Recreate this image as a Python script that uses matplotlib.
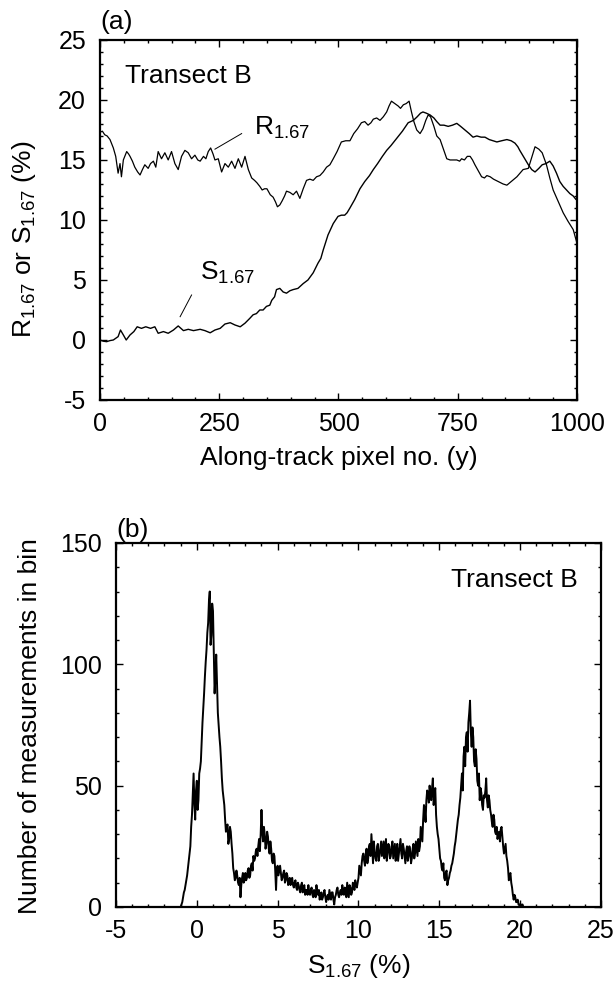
import numpy as np
import matplotlib
matplotlib.use('Agg')
import matplotlib.pyplot as plt
from matplotlib.ticker import MultipleLocator

plt.rcParams['font.family'] = ['Liberation Sans', 'DejaVu Sans']
plt.rcParams['mathtext.fontset'] = 'custom'
plt.rcParams['mathtext.rm'] = 'Liberation Sans'
plt.rcParams['mathtext.it'] = 'Liberation Sans:italic'
plt.rcParams['mathtext.bf'] = 'Liberation Sans:bold'
plt.rcParams['axes.unicode_minus'] = False

# (a) R_1.67 along the transect
r_pix = [0, 5, 10, 15, 21, 28, 33, 38, 42, 45,
         49, 56, 60, 63, 68, 73, 79, 84, 89, 94,
         101, 106, 112, 117, 122, 129, 136, 143, 150, 157,
         164, 171, 178, 185, 192, 199, 205, 210, 217, 222,
         227, 232, 237, 241, 248, 255, 262, 269, 276, 283,
         290, 297, 304, 311, 318, 324, 329, 335, 340, 345,
         350, 357, 363, 368, 372, 377, 382, 387, 391, 398,
         405, 412, 419, 426, 433, 440, 447, 454, 461, 468,
         475, 482, 489, 497, 506, 515, 524, 532, 540, 548,
         555, 562, 568, 573, 580, 587, 594, 601, 606, 611,
         618, 625, 630, 636, 642, 648, 653, 658, 664, 671,
         677, 683, 688, 693, 700, 706, 713, 720, 727, 734,
         741, 748, 754, 758, 764, 770, 776, 781, 786, 793,
         800, 806, 811, 818, 825, 835, 845, 853, 862, 874,
         887, 898, 905, 912, 920, 927, 936, 943, 950, 960,
         971, 981, 992, 1000]
r_val = [17.3, 17.4, 17.1, 17.0, 16.7, 16.0, 15.3, 13.9, 14.7, 13.6,
         15.0, 15.7, 15.5, 15.3, 14.9, 14.4, 14.0, 13.75, 14.2, 14.6,
         14.3, 14.7, 14.9, 14.4, 15.7, 15.1, 15.6, 15.0, 15.7, 14.7,
         14.2, 15.3, 15.8, 15.6, 15.1, 15.4, 15.0, 14.9, 15.3, 15.1,
         15.7, 16.0, 15.5, 15.0, 15.1, 14.0, 14.7, 14.4, 14.9, 14.3,
         15.1, 14.4, 15.3, 14.2, 13.5, 13.3, 13.1, 12.8, 12.5, 12.6,
         12.6, 12.1, 11.9, 11.5, 11.1, 11.25, 11.6, 12.0, 12.4, 12.3,
         12.1, 12.4, 11.8, 12.6, 13.3, 13.4, 13.3, 13.6, 13.7, 14.0,
         14.4, 14.6, 15.1, 15.7, 16.5, 16.6, 16.6, 17.2, 17.6, 18.1,
         18.2, 17.9, 18.1, 18.4, 18.5, 18.3, 18.6, 19.0, 19.5, 19.9,
         19.7, 19.5, 19.3, 19.6, 19.7, 19.9, 19.0, 18.2, 17.5, 17.2,
         17.6, 18.3, 18.75, 18.6, 17.8, 17.0, 16.7, 15.9, 15.1, 15.0,
         15.0, 15.0, 14.9, 15.1, 15.0, 15.3, 15.3, 15.0, 14.6, 14.1,
         13.6, 13.5, 13.7, 13.6, 13.4, 13.2, 13.0, 12.9, 13.2, 13.6,
         14.2, 14.3, 15.2, 16.1, 15.9, 15.6, 14.6, 13.5, 12.5, 11.6,
         10.6, 9.9, 9.2, 8.05]

# (a) S_1.67 along the transect
s_pix = [0, 7, 14, 21, 28, 38, 43, 49, 55, 63,
         71, 78, 87, 96, 106, 115, 122, 133, 143, 154,
         164, 175, 185, 196, 210, 220, 231, 241, 252, 262,
         273, 283, 294, 304, 314, 321, 328, 335, 342, 349,
         356, 360, 366, 370, 377, 384, 391, 398, 405, 415,
         426, 436, 447, 457, 463, 468, 478, 489, 499, 506,
         513, 518, 524, 534, 545, 555, 565, 573, 582, 592,
         601, 610, 622, 634, 646, 657, 665, 672, 677, 684,
         692, 700, 706, 713, 721, 730, 739, 748, 756, 765,
         774, 782, 790, 799, 807, 816, 824, 832, 842, 853,
         862, 870, 876, 880, 889, 898, 905, 912, 920, 927,
         935, 943, 950, 957, 964, 971, 978, 985, 992, 998,
         1000]
s_val = [0.0, -0.1, -0.14, -0.05, 0.0, 0.28, 0.83, 0.42, 0.0, 0.42,
         0.7, 1.1, 0.97, 1.1, 0.97, 1.1, 0.56, 0.7, 0.56, 0.83,
         1.17, 0.78, 0.89, 0.78, 0.89, 0.78, 0.6, 0.83, 0.97, 1.33,
         1.44, 1.25, 1.1, 1.4, 1.8, 2.1, 2.2, 2.5, 2.5, 2.8,
         2.9, 3.3, 3.6, 4.2, 4.3, 4.0, 3.9, 4.1, 4.2, 4.3,
         4.7, 5.0, 5.6, 6.4, 6.8, 7.5, 8.75, 9.7, 10.3, 10.4,
         10.4, 10.6, 11.0, 11.7, 12.6, 13.2, 13.7, 14.2, 14.7, 15.3,
         15.8, 16.2, 16.8, 17.4, 18.1, 18.3, 18.6, 18.9, 19.0, 18.9,
         18.75, 18.5, 18.2, 17.9, 17.9, 17.8, 17.9, 18.05, 17.8, 17.5,
         17.2, 16.9, 17.0, 16.9, 16.9, 16.7, 16.6, 16.5, 16.6, 16.7,
         16.6, 16.4, 16.1, 15.8, 15.2, 14.6, 14.2, 14.0, 14.3, 14.6,
         14.7, 14.9, 14.5, 13.9, 13.2, 12.8, 12.5, 12.2, 12.0, 11.7,
         11.7]

# (b) histogram of S_1.67: counts on a 0.1 % grid from -1.0 ...
hist_start = -1.0
hist_step = 0.1
hist_counts = [0, 2, 6, 9, 13, 19, 25, 38, 55, 36,
               52, 44, 57, 68, 82, 95, 106, 117, 130, 112,
               122, 88, 104, 80, 70, 60, 48, 42, 31, 34,
               28, 31, 22, 14, 12, 13, 9, 4, 12, 10,
               14, 12, 16, 13, 18, 21, 20, 24, 25, 23,
               40, 27, 30, 26, 29, 22, 24, 18, 21, 7,
               17, 15, 14, 12, 15, 11, 13, 10, 9, 12,
               8, 11, 7, 9, 6, 10, 8, 5, 7, 9,
               5, 8, 4, 6, 9, 5, 3, 6, 4, 7,
               2, 5, 7, 3, 6, 1, 5, 8, 4, 7,
               9, 5, 7, 10, 4, 8, 6, 9, 11, 8,
               12, 15, 18, 22, 17, 24, 20, 26, 30, 18,
               23, 19, 26, 21, 27, 24, 20, 28, 22, 25,
               21, 27, 23, 19, 26, 22, 28, 20, 24, 18,
               25, 21, 23, 20, 26, 22, 24, 28, 25, 30,
               36, 40, 44, 47, 50, 44, 53, 46, 38, 30,
               24, 19, 15, 12, 14, 9, 12, 15, 18, 22,
               27, 33, 38, 45, 55, 62, 58, 72, 76, 85,
               66, 70, 58, 61, 50, 44, 47, 40, 45, 53,
               41, 44, 38, 33, 36, 30, 28, 31, 32, 29,
               22, 26, 19, 11, 14, 8, 3, 4, 2, 1,
               0, 1, 0]
# ... and the counts in the bins half-way between them
hist_counts_half = [1, 4, 7, 11, 16, 22, 33, 47, 42, 48,
                    40, 55, 60, 76, 88, 101, 113, 126, 108, 125,
                    106, 95, 92, 75, 66, 53, 45, 36, 33, 26,
                    33, 26, 16, 11, 15, 10, 12, 9, 14, 11,
                    11, 15, 12, 17, 15, 19, 23, 21, 28, 30,
                    31, 33, 24, 31, 24, 27, 19, 22, 15, 16,
                    13, 17, 11, 14, 10, 14, 9, 12, 11, 9,
                    10, 8, 10, 7, 9, 6, 9, 7, 5, 6,
                    7, 5, 7, 4, 6, 7, 5, 3, 6, 4,
                    4, 3, 5, 6, 3, 4, 7, 5, 6, 5,
                    6, 8, 4, 7, 9, 5, 10, 7, 9, 10,
                    17, 13, 21, 19, 22, 18, 25, 21, 24, 27,
                    20, 25, 19, 24, 21, 27, 25, 19, 26, 20,
                    25, 20, 26, 23, 19, 25, 22, 26, 21, 23,
                    19, 25, 18, 24, 20, 27, 21, 23, 33, 27,
                    42, 35, 48, 43, 46, 49, 42, 49, 33, 28,
                    20, 16, 18, 11, 15, 11, 14, 17, 20, 25,
                    30, 36, 42, 50, 48, 66, 70, 64, 80, 72,
                    74, 60, 65, 52, 55, 49, 42, 46, 48, 44,
                    46, 40, 35, 38, 31, 33, 30, 27, 33, 25,
                    24, 21, 16, 13, 10, 5, 5, 2, 3, 1,
                    0, 1]

TICK_FS = 18
LABEL_FS = 19


def style_axes(ax):
	for sp in ax.spines.values():
		sp.set_linewidth(1.6)
	ax.tick_params(which='both', direction='in', top=True, right=True,
	               labelsize=TICK_FS, width=1.0)
	ax.tick_params(which='major', length=5)
	ax.tick_params(which='minor', length=2.5)
	ax.tick_params(axis='x', pad=9)
	ax.tick_params(axis='y', pad=10)


fig = plt.figure(figsize=(6.16, 9.84), dpi=100)

# ---- panel (a)
ax1 = fig.add_axes([0.1623, 0.5935, 0.7744, 0.3659])
ax1.plot(r_pix, r_val, color='black', lw=0.9)
ax1.plot(s_pix, s_val, color='black', lw=1.0)
ax1.set_xlim(0, 1000)
ax1.set_ylim(-5, 25)
ax1.xaxis.set_major_locator(MultipleLocator(250))
ax1.xaxis.set_minor_locator(MultipleLocator(50))
ax1.yaxis.set_major_locator(MultipleLocator(5))
ax1.yaxis.set_minor_locator(MultipleLocator(1))
style_axes(ax1)
ax1.set_xlabel('Along-track pixel no. (y)', fontsize=LABEL_FS)
ax1.xaxis.set_label_coords(0.5, -0.128)
ax1.set_ylabel(r'R$_{1.67}$ or S$_{1.67}$ (%)', fontsize=LABEL_FS)
ax1.yaxis.set_label_coords(-0.13, 0.445)
ax1.text(0.0, 1.017, '(a)', transform=ax1.transAxes, fontsize=LABEL_FS,
         ha='left', va='bottom')
ax1.text(0.052, 0.881, 'Transect B', transform=ax1.transAxes,
         fontsize=LABEL_FS, ha='left', va='baseline')

# curve labels with leader lines
ax1.text(323, 17.1, r'R$_{1.67}$', fontsize=LABEL_FS, va='baseline')
ax1.plot([241, 297], [15.9, 17.2], color='black', lw=0.7)
ax1.text(210, 5.0, r'S$_{1.67}$', fontsize=LABEL_FS, va='baseline')
ax1.plot([168, 192], [1.94, 3.75], color='black', lw=0.7)

# ---- panel (b)
n_full = len(hist_counts) + len(hist_counts_half)
hist_x = hist_start + 0.5 * hist_step * np.arange(n_full)
hist_y = np.empty(n_full)
hist_y[0::2] = hist_counts
hist_y[1::2] = hist_counts_half

ax2 = fig.add_axes([0.1883, 0.0783, 0.7873, 0.3699])
ax2.plot(hist_x, hist_y, color='black', lw=1.4)
ax2.set_xlim(-5, 25)
ax2.set_ylim(0, 150)
ax2.xaxis.set_major_locator(MultipleLocator(5))
ax2.xaxis.set_minor_locator(MultipleLocator(1))
ax2.yaxis.set_major_locator(MultipleLocator(50))
ax2.yaxis.set_minor_locator(MultipleLocator(10))
style_axes(ax2)
ax2.set_xlabel(r'S$_{1.67}$ (%)', fontsize=LABEL_FS)
ax2.xaxis.set_label_coords(0.5, -0.125)
ax2.set_ylabel('Number of measurements in bin', fontsize=LABEL_FS)
ax2.yaxis.set_label_coords(-0.152, 0.497)
ax2.text(0.0, 1.003, '(b)', transform=ax2.transAxes, fontsize=LABEL_FS,
         ha='left', va='bottom')
ax2.text(0.952, 0.878, 'Transect B', transform=ax2.transAxes,
         fontsize=LABEL_FS, ha='right', va='baseline')

fig.savefig('out.png', dpi=100)
